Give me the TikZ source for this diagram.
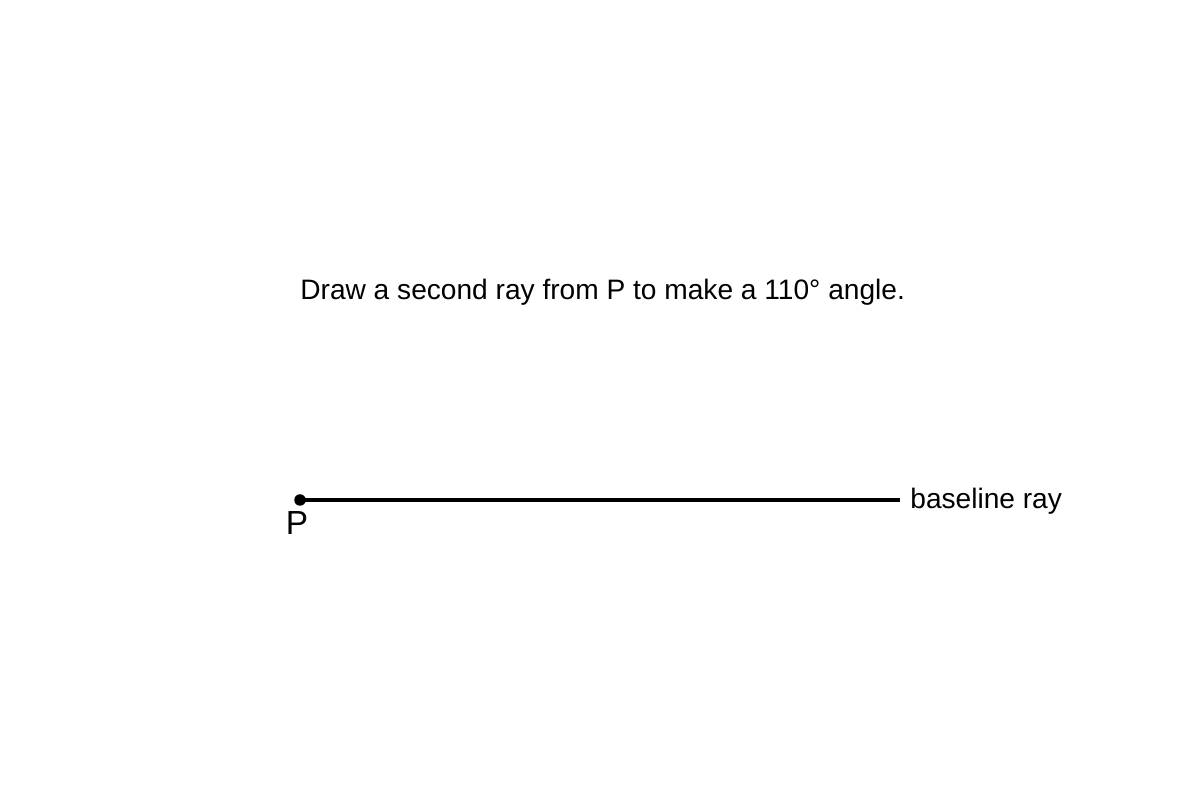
\documentclass[tikz,border=0pt]{standalone}
\usepackage{fontspec}
\setmainfont{Liberation Sans}
\usepackage{tikz}
\usetikzlibrary{positioning}

\tikzset{
  raytext/.style={inner sep=0pt, font=\fontsize{16}{19}\selectfont},
  pointtext/.style={inner sep=0pt, font=\fontsize{19}{23}\selectfont},
  rayline/.style={line width=2.4pt}
}

\begin{document}
\begin{tikzpicture}
\useasboundingbox (0,0) rectangle (24,16);
% task text
\node[raytext, anchor=base west] (task) at (6,10) {Draw a second ray from P to make a 110\textdegree{} angle.};
% baseline ray
\coordinate (P) at (6,6);
\coordinate (E) at (18,6);
\draw[rayline] (P) -- (E);
\fill (P) circle (0.115);
\node[pointtext] (Plabel) at (5.94,5.54) {P};
\node[raytext, anchor=base west] (Elabel) at (18.2,5.82) {baseline ray};
\end{tikzpicture}
\end{document}
